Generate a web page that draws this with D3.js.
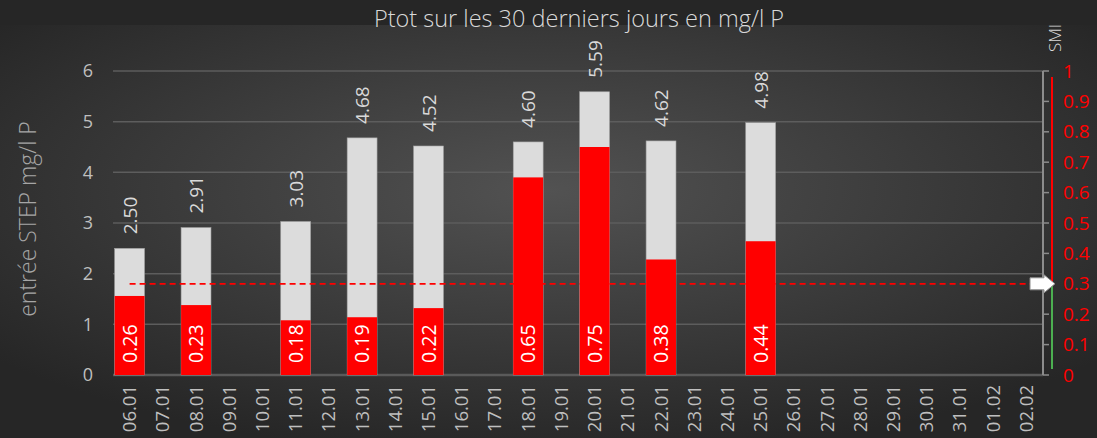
<!DOCTYPE html>
<html>
<head>
<meta charset="utf-8">
<script src="https://cdn.jsdelivr.net/npm/d3@7"></script>
<style>
  body { margin: 0; background: #262626; }
  svg { display: block; font-family: "Open Sans", "Noto Sans", sans-serif; }
</style>
</head>
<body>
<svg id="chart"></svg>
<script>
const W = 1097, H = 438;

const days = ["06.01","07.01","08.01","09.01","10.01","11.01","12.01","13.01","14.01","15.01",
  "16.01","17.01","18.01","19.01","20.01","21.01","22.01","23.01","24.01","25.01","26.01",
  "27.01","28.01","29.01","30.01","31.01","01.02","02.02"];
const measureDays = ["06.01","08.01","11.01","13.01","15.01","18.01","20.01","22.01","25.01"];
const ptotValues = [2.50, 2.91, 3.03, 4.68, 4.52, 4.60, 5.59, 4.62, 4.98];
const smiValues = [0.26, 0.23, 0.18, 0.19, 0.22, 0.65, 0.75, 0.38, 0.44];
const leftTicks = [0, 1, 2, 3, 4, 5, 6];
const rightTicks = [0, 0.1, 0.2, 0.3, 0.4, 0.5, 0.6, 0.7, 0.8, 0.9, 1];
const smiLimit = 0.3;

let svg = d3.select("#chart").attr("width", W).attr("height", H);

// background
let defs = svg.append("defs");
let grad = defs.append("radialGradient").attr("id", "bg")
    .attr("cx", "50%").attr("cy", "40%").attr("r", "65%");
grad.append("stop").attr("offset", "0%").attr("stop-color", "#525252");
grad.append("stop").attr("offset", "100%").attr("stop-color", "#262626");
svg.append("rect").attr("width", W).attr("height", H).attr("fill", "#262626");
svg.append("rect").attr("y", 25).attr("width", W).attr("height", H - 25).attr("fill", "url(#bg)");

let x = d3.scaleBand().domain(days).range([113, 1043]).paddingInner(0.1).paddingOuter(0.05);
let y = d3.scaleLinear().domain([0, 6]).range([375, 71]);
let y2 = d3.scaleLinear().domain([0, 1]).range([375, 71]);

// grid
svg.append("g").selectAll("line").data(leftTicks).join("line")
    .attr("x1", 113).attr("x2", 1043)
    .attr("y1", d => y(d)).attr("y2", d => y(d))
    .attr("stroke", d => d === 0 ? "#5a5a5a" : "#5d5d5d")
    .attr("stroke-width", d => d === 0 ? 2.5 : 1.5);

// left axis labels
svg.append("g").selectAll("text").data(leftTicks).join("text")
    .attr("x", 88).attr("y", d => y(d)).attr("dy", "0.35em")
    .attr("text-anchor", "middle").attr("fill", "#bfbfbf").attr("font-size", 18)
    .text(d => d);

svg.append("text")
    .attr("transform", "translate(36,219) rotate(-90)")
    .attr("text-anchor", "middle").attr("fill", "#a6a6a6")
    .attr("font-size", 23).attr("font-weight", 300)
    .text("entrée STEP mg/l P");

// x labels
svg.append("g").selectAll("text").data(days).join("text")
    .attr("transform", d => `translate(${x(d) + x.bandwidth() / 2 + 6.5},385) rotate(-90)`)
    .attr("text-anchor", "end").attr("fill", "#bfbfbf").attr("font-size", 18.5)
    .text(d => d);

let data = measureDays.map((d, i) => ({day: d, ptot: ptotValues[i], smi: smiValues[i]}));

// grey bars (Ptot)
svg.append("g").selectAll("rect").data(data).join("rect")
    .attr("x", d => x(d.day)).attr("width", x.bandwidth())
    .attr("y", d => y(d.ptot)).attr("height", d => y(0) - y(d.ptot))
    .attr("fill", "#dcdcdc").attr("stroke", "#a0a0a0").attr("stroke-width", 0.6);

// red bars (SMI)
svg.append("g").selectAll("rect").data(data).join("rect")
    .attr("x", d => x(d.day)).attr("width", x.bandwidth())
    .attr("y", d => y2(d.smi)).attr("height", d => y2(0) - y2(d.smi))
    .attr("fill", "#ff0000");

// total labels
svg.append("g").selectAll("text").data(data).join("text")
    .attr("transform", d => `translate(${x(d.day) + x.bandwidth() / 2 + 7},${y(d.ptot) - 14}) rotate(-90)`)
    .attr("fill", "#d9d9d9").attr("font-size", 19)
    .text(d => d.ptot.toFixed(2));

// smi labels
svg.append("g").selectAll("text").data(data).join("text")
    .attr("transform", d => `translate(${x(d.day) + x.bandwidth() / 2 + 7},${y2(0) - 12}) rotate(-90)`)
    .attr("fill", "#ffffff").attr("font-size", 19.5)
    .text(d => d.smi.toFixed(2));

// limit line
svg.append("line")
    .attr("x1", x(days[0]) + x.bandwidth() / 2).attr("x2", 1030)
    .attr("y1", y2(smiLimit)).attr("y2", y2(smiLimit))
    .attr("stroke", "#ff0000").attr("stroke-width", 1.8).attr("stroke-dasharray", "6,4");

// right axis bracket
let ax = 1043;
svg.append("line").attr("x1", ax).attr("x2", ax).attr("y1", y2(1)).attr("y2", y2(0))
    .attr("stroke", "#8c8c8c").attr("stroke-width", 2);
svg.append("g").selectAll("line").data(rightTicks).join("line")
    .attr("x1", ax).attr("x2", ax + 6)
    .attr("y1", d => y2(d)).attr("y2", d => y2(d))
    .attr("stroke", "#8c8c8c").attr("stroke-width", 1.5);

svg.append("line").attr("x1", 1052).attr("x2", 1052).attr("y1", y2(0.98)).attr("y2", y2(smiLimit))
    .attr("stroke", "#ff0000").attr("stroke-width", 2);
svg.append("line").attr("x1", 1052).attr("x2", 1052).attr("y1", y2(smiLimit)).attr("y2", y2(0.02))
    .attr("stroke", "#4caf50").attr("stroke-width", 2);

svg.append("g").selectAll("text").data(rightTicks).join("text")
    .attr("x", 1063).attr("y", d => y2(d)).attr("dy", "0.35em")
    .attr("fill", "#ff0000").attr("font-size", 19)
    .text(d => d);

// arrow
let ay = y2(smiLimit);
svg.append("path")
    .attr("d", `M1030,${ay - 6} L1044,${ay - 6} L1044,${ay - 9} L1055,${ay} L1044,${ay + 9} L1044,${ay + 6} L1030,${ay + 6} Z`)
    .attr("fill", "#ffffff").attr("stroke", "#8c8c8c").attr("stroke-width", 1);

svg.append("text")
    .attr("transform", "translate(1061,38) rotate(-90)")
    .attr("text-anchor", "middle").attr("fill", "#d9d9d9")
    .attr("font-size", 17).attr("font-weight", 300)
    .text("SMI");

// title
svg.append("text")
    .attr("x", 579).attr("y", 27).attr("text-anchor", "middle")
    .attr("fill", "#d9d9d9").attr("font-size", 23.5).attr("font-weight", 300)
    .text("Ptot sur les 30 derniers jours en mg/l P");
</script>
</body>
</html>
